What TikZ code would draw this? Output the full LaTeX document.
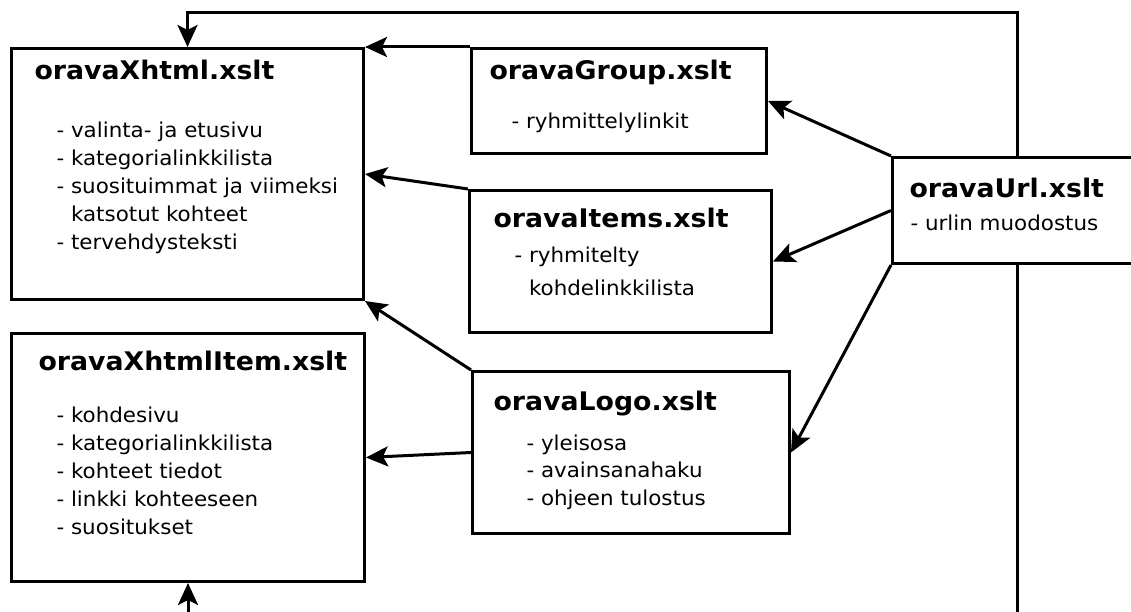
\documentclass[tikz,border=0pt]{standalone}
\usepackage{fontspec}
\setmainfont{DejaVu Sans}[FakeStretch=1.045]
\usetikzlibrary{arrows.meta}

\tikzset{
    box/.style = {draw=black, line width=3pt, rectangle, inner sep=0pt, anchor=north west},
    ttl/.style = {anchor=base west, inner sep=0pt, font=\fontsize{25.6}{30}\selectfont\bfseries},
    lst/.style = {anchor=base west, inner sep=0pt, font=\fontsize{20.5}{28}\selectfont}
}
\newcommand{\cont}{\hphantom{- }}

\begin{document}
\begin{tikzpicture}[
      x = 1pt, y = -1pt,
      line width = 3pt,
      > = {Stealth[length=22pt,width=20pt,inset=5pt]}
                    ]
\useasboundingbox (0,0) rectangle (1131,612);
\fill[white] (0,0) rectangle (1131,612);
\clip (0,0) rectangle (1131,612);

\coordinate (top) at (0,13);
\coordinate (bottom) at (0,625);

% boxes
\node[box, minimum width=352pt, minimum height=251pt] (xhtml) at (10,47) {};
\node[box, minimum width=353pt, minimum height=248pt] (item) at (10,332) {};
\node[box, minimum width=295pt, minimum height=105pt] (group) at (470,47) {};
\node[box, minimum width=302pt, minimum height=142pt] (items) at (468,189) {};
\node[box, minimum width=317pt, minimum height=162pt] (logo) at (471,370) {};
\node[box, minimum width=250pt, minimum height=106pt] (url) at (891,156) {};

% texts
\node[ttl] (t-xhtml) at (33,80) {oravaXhtml.xslt};
\node[lst] (l-xhtml) at (55,138) {\begin{tabular}[t]{@{}l@{}}
    - valinta- ja etusivu\\
    - kategorialinkkilista\\
    - suosituimmat ja viimeksi\\
    \cont katsotut kohteet\\
    - tervehdysteksti
    \end{tabular}};

\node[ttl] (t-item) at (37,370) {oravaXhtmlItem.xslt};
\node[lst] (l-item) at (55,422) {\begin{tabular}[t]{@{}l@{}}
    - kohdesivu\\
    - kategorialinkkilista\\
    - kohteet tiedot\\
    - linkki kohteeseen\\
    - suositukset
    \end{tabular}};

\node[ttl] (t-group) at (488,80) {oravaGroup.xslt};
\node[lst] (l-group) at (510,129) {- ryhmittelylinkit};

\node[ttl] (t-items) at (492,228) {oravaItems.xslt};
\node[lst, font=\fontsize{20.5}{33}\selectfont] (l-items) at (513,262) {\begin{tabular}[t]{@{}l@{}}
    - ryhmitelty\\
    \cont kohdelinkkilista
    \end{tabular}};

\node[ttl] (t-logo) at (492,410) {oravaLogo.xslt};
\node[lst, font=\fontsize{20.5}{27.5}\selectfont] (l-logo) at (525,450) {\begin{tabular}[t]{@{}l@{}}
    - yleisosa\\
    - avainsanahaku\\
    - ohjeen tulostus
    \end{tabular}};

\node[ttl] (t-url) at (908,198) {oravaUrl.xslt};
\node[lst] (l-url) at (909,230) {- urlin muodostus};

% connections
\draw[->] (group.north west) -- (xhtml.north east);
\draw[->] (items.north west) -- (xhtml.east);
\draw[->] (logo.north west) -- (xhtml.south east);
\draw[->] (logo.west) -- (item.east);
\draw[->] (url.north west) -- (group.east);
\draw[->] (url.west) -- (items.east);
\draw[->] (url.south west) -- (logo.east);
\draw[->] (url.north) -- (url.north |- top) -| (xhtml.north);
\draw (url.south) -- (url.south |- bottom);
\draw[->] (item.south |- bottom) -- (item.south);

\end{tikzpicture}
\end{document}
